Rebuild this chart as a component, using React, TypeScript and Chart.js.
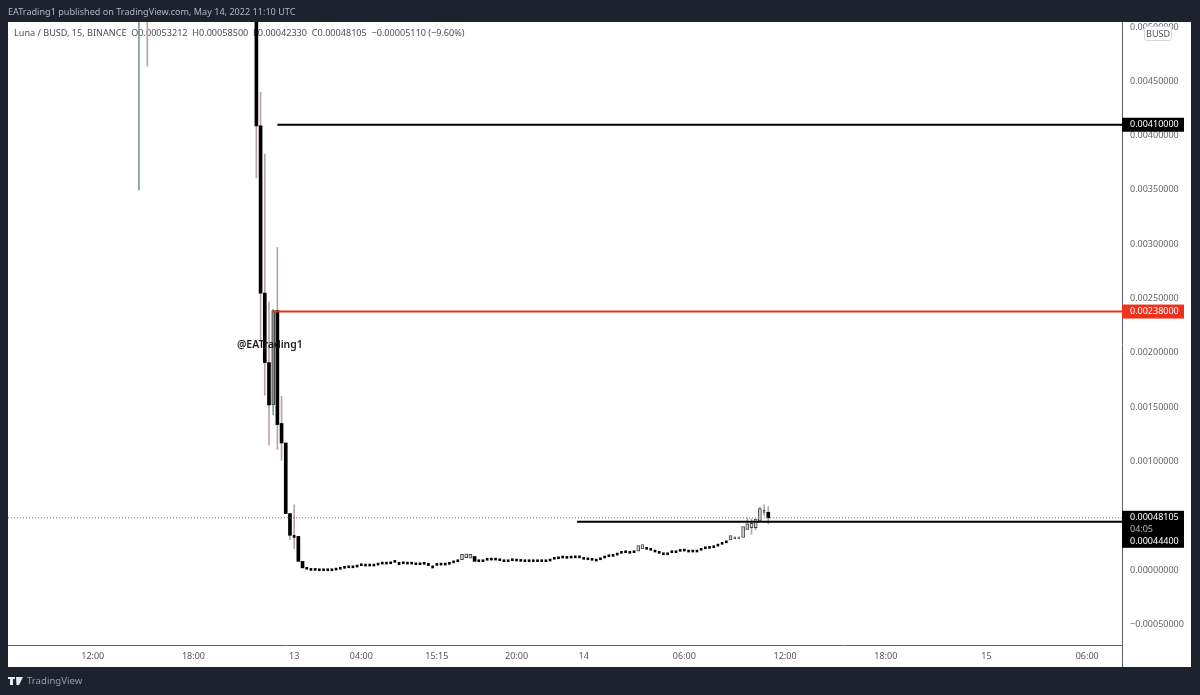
import React, { useEffect, useRef } from "react";
import { Chart, registerables } from "chart.js";

Chart.register(...registerables);

const UNIT = 1e-5; // all candle values below are in units of 0.00001 BUSD

const bodyIndex = [
  0, 2, 28, 29, 30, 31, 32, 33, 34, 35, 36, 37, 38, 39,
  40, 41, 42, 43, 44, 45, 46, 47, 48, 49,
  50, 51, 52, 53, 54, 55, 56, 57, 58, 59,
  60, 61, 62, 63, 64, 65, 66, 67, 68, 69,
  70, 71, 72, 73, 74, 75, 76, 77, 78, 79,
  80, 81, 82, 83, 84, 85, 86, 87, 88, 89,
  90, 91, 92, 93, 94, 95, 96, 97, 98, 99,
  100, 101, 102, 103, 104, 105, 106, 107, 108, 109,
  110, 111, 112, 113, 114, 115, 116, 117, 118, 119,
  120, 121, 122, 123, 124, 125, 126, 127, 128, 129,
  130, 131, 132, 133, 134, 135, 136, 137, 138, 139,
  140, 141, 142, 143, 144, 145, 146, 147, 148, 149, 150,
];
const opens = [
  540, 570, 580, 409, 255, 191, 152, 239, 135, 117, 52, 32, 31, 8,
  2.5, 1.5, 1.5, 1.2, 1.2, 1.2, 1.2, 1.8, 2.5, 3.4,
  3.9, 3.9, 4.6, 5.8, 5.5, 5.5, 5.5, 6.4, 7.3, 7.3,
  7.6, 8.9, 7.1, 7.6, 7.3, 7.3, 6.7, 6.7, 7.1, 6.3,
  3.9, 6.1, 6.4, 6.4, 7.1, 8.5, 9.5, 9.5, 11.5, 11,
  12.5, 9.5, 9.5, 10.8, 11, 11, 10.4, 9.5, 9.5, 10.4,
  10.1, 9.8, 9.5, 9.5, 9.5, 9.5, 9.5, 9.5, 10.1, 11.7,
  12.2, 12.9, 12.6, 12.9, 13.1, 13.1, 11.7, 11.3, 10.8, 10.1,
  11.3, 12.9, 14.1, 14.4, 15.6, 17.2, 17.8, 17.2, 17.8, 17.5,
  19.5, 20.9, 20, 18.4, 17.2, 15.9, 15.9, 17.8, 17.8, 19,
  19.3, 18.4, 18.4, 18.4, 20, 21.4, 21.8, 22.4, 23.9, 25.5,
  26.9, 27.7, 28.8, 28.8, 30, 37.5, 39, 39, 45, 53, 53.212,
];
const closes = [
  560, 590, 409, 255, 191, 152, 239, 134, 117, 52, 32, 30, 8, 2,
  0.7, -0.3, -0.3, -0.6, -0.6, -0.6, -0.6, 0, 0.7, 1.6,
  2.1, 2.1, 2.8, 4, 3.7, 3.7, 3.7, 4.6, 5.5, 5.5,
  5.8, 7.1, 4.9, 5.8, 5.5, 5.5, 4.9, 4.9, 5.3, 4.1,
  1.9, 4.3, 4.6, 4.6, 5.3, 6.7, 7.7, 14.5, 15, 14.5,
  8, 7.7, 7.7, 9, 9.2, 9.2, 8.6, 7.7, 7.7, 8.6,
  8.3, 8, 7.7, 7.7, 7.7, 7.7, 7.7, 7.7, 8.3, 9.9,
  10.4, 11.1, 10.8, 11.1, 11.3, 11.3, 9.9, 9.5, 9, 8.3,
  9.5, 11.1, 12.3, 12.6, 13.8, 15.4, 16, 15.4, 16, 22.5,
  23.5, 19.1, 18.2, 16.6, 15.4, 14.1, 14.1, 16, 16, 17.2,
  17.5, 16.6, 16.6, 16.6, 18.2, 19.6, 20, 20.6, 22.1, 23.7,
  25.1, 31.7, 30.6, 30.6, 40, 42.5, 43, 47, 56.5, 55, 48.105,
];

const wickIndex = [0, 2, 28, 29, 30, 31, 32, 33, 34, 36, 37, 145, 146, 147, 148, 149, 150];
const wickHighs = [620, 620, 580, 440, 383, 247, 240, 297, 160, 52, 60, 48, 47, 47, 58, 60, 58.5];
const wickLows = [350, 464, 361, 212, 161, 115, 143, 111, 101, 28, 20, 37, 33, 37, 45, 50, 42.33];

const xTickIndex = [-11, 13, 37, 53, 71, 90, 106, 130, 154, 178, 202, 226];
const xTickLabels = ["12:00", "18:00", "13", "04:00", "15:15", "20:00", "14", "06:00", "12:00", "18:00", "15", "06:00"];
const yTickValues = [-0.0005, 0, 0.0005, 0.001, 0.0015, 0.002, 0.0025, 0.003, 0.0035, 0.004, 0.0045, 0.005];

const resistanceHigh = 0.0041;
const resistanceMid = 0.00238;
const supportLevel = 0.000444;
const lastPrice = 0.00048105;
const countdown = "04:05";
const currency = "BUSD";
const headerText = "EATrading1 published on TradingView.com, May 14, 2022 11:10 UTC";
const legendText = "Luna / BUSD, 15, BINANCE  O0.00053212  H0.00058500  L0.00042330  C0.00048105  \u22120.00005110 (\u22129.60%)";
const watermarkText = "@EATrading1";
const brandText = "TradingView";

const resistanceHighStart = 33;
const resistanceMidStart = 32;
const supportStart = 104.4;

const X_MIN = -31.2;
const X_MAX = 234.3;
const Y_MIN = -0.00069;
const Y_MAX = 0.005046;

const FONT = '"Noto Sans", sans-serif';
const DARK = "#1e222d";

const fmt = (v: number) => (v < 0 ? "\u2212" : "") + Math.abs(v).toFixed(8);

const frame = {
  id: "frame",
  beforeDraw(chart: any) {
    const c = chart.ctx;
    c.save();
    c.fillStyle = DARK;
    c.fillRect(0, 0, 1200, 695);
    c.fillStyle = "#fff";
    c.fillRect(8, 22, 1183, 645);
    c.restore();
  },
  beforeDatasetsDraw(chart: any) {
    const c = chart.ctx;
    c.save();
    c.textBaseline = "middle";
    c.textAlign = "left";
    c.fillStyle = "#4a4d57";
    c.font = `9.1px ${FONT}`;
    c.fillText(legendText, 14, 33);
    c.restore();
  },
  afterDraw(chart: any) {
    const c = chart.ctx;
    const y = chart.scales.y;
    const a = chart.chartArea;
    c.save();
    c.strokeStyle = "#5d606b";
    c.lineWidth = 1;
    c.beginPath();
    c.moveTo(a.right + 0.5, 22);
    c.lineTo(a.right + 0.5, 667);
    c.moveTo(8, a.bottom + 0.5);
    c.lineTo(1122, a.bottom + 0.5);
    c.stroke();

    c.textBaseline = "middle";
    c.textAlign = "left";
    c.font = `9.1px ${FONT}`;
    c.fillStyle = "#b2b5be";
    c.fillText(headerText, 8, 12);
    c.fillStyle = "#1a1a1a";
    c.font = `600 10.4px ${FONT}`;
    c.fillText(watermarkText, 237, 345);

    const tag = (v: number, bg: string) => {
      const py = y.getPixelForValue(v);
      c.fillStyle = bg;
      c.fillRect(a.right, py - 7, 62, 14);
      c.fillStyle = "#fff";
      c.font = `9px ${FONT}`;
      c.fillText(v.toFixed(8), 1130, py);
    };
    tag(resistanceHigh, "#000");
    tag(resistanceMid, "#f0311e");
    const lastY = y.getPixelForValue(lastPrice);
    c.fillStyle = "#000";
    c.fillRect(a.right, lastY - 7, 62, 37);
    c.fillStyle = "#fff";
    c.font = `9px ${FONT}`;
    c.fillText(lastPrice.toFixed(8), 1130, lastY);
    c.fillStyle = "#b2b5be";
    c.fillText(countdown, 1130, lastY + 12);
    c.fillStyle = "#fff";
    c.fillText(supportLevel.toFixed(8), 1130, lastY + 24);

    c.fillStyle = "#fff";
    c.strokeStyle = "#d6d8de";
    c.beginPath();
    c.roundRect(1144.5, 26.5, 27, 14, 2);
    c.fill();
    c.stroke();
    c.fillStyle = "#555";
    c.font = `9px ${FONT}`;
    c.textAlign = "center";
    c.fillText(currency, 1158, 34);

    c.fillStyle = "#e8e9ec";
    c.fillRect(8, 677, 7, 2);
    c.fillRect(10, 677, 3, 8);
    c.beginPath();
    c.moveTo(16, 677);
    c.lineTo(23, 677);
    c.lineTo(19, 685);
    c.lineTo(16.5, 685);
    c.closePath();
    c.fill();
    c.textAlign = "left";
    c.fillStyle = "#9a9da8";
    c.font = `9.6px ${FONT}`;
    c.fillText(brandText, 27, 681);
    c.restore();
  },
};

export default function App() {
  const ref = useRef<HTMLCanvasElement>(null);
  useEffect(() => {
    const bars = bodyIndex.map((x, i) => ({ x, o: opens[i], c: closes[i] }));
    const wide = bars.filter((b) => Math.abs(b.o - b.c) >= 3);
    const narrow = bars.filter((b) => Math.abs(b.o - b.c) < 3);
    const toPoint = (b: any) => ({ x: b.x, y: [b.o * UNIT, b.c * UNIT] });
    const fill = (list: any[]) => (ctx: any) => {
      const b = list[ctx.dataIndex];
      if (b.c <= b.o) return "#000";
      return b.c - b.o > 50 ? "#8c8c8c" : "#d8d8d8";
    };
    const border = (list: any[]) => (ctx: any) => {
      const b = list[ctx.dataIndex];
      return b.c > b.o ? 1 : 0;
    };
    const chart = new Chart(ref.current!, {
      type: "bar",
      data: {
        datasets: [
          {
            type: "bar",
            label: "wicks",
            order: 5,
            grouped: false,
            barThickness: 1,
            data: wickIndex.map((x, i) => ({ x, y: [wickLows[i] * UNIT, wickHighs[i] * UNIT] })),
            backgroundColor: (ctx: any) => {
              const bar = wickIndex[ctx.dataIndex];
              return bar === 0 || bar === 32 ? "#7f9a97" : "#b8a4a8";
            },
          },
          {
            type: "bar",
            label: "bodies",
            order: 4,
            grouped: false,
            barThickness: 3,
            data: wide.map(toPoint),
            backgroundColor: fill(wide),
            borderColor: "#444",
            borderWidth: border(wide),
            borderSkipped: false,
          },
          {
            type: "bar",
            label: "small bodies",
            order: 4,
            grouped: false,
            barThickness: 2,
            data: narrow.map(toPoint),
            backgroundColor: fill(narrow),
            borderColor: "#444",
            borderWidth: border(narrow),
            borderSkipped: false,
          },
          {
            type: "line",
            label: "last",
            order: 3,
            data: [{ x: X_MIN, y: lastPrice }, { x: X_MAX, y: lastPrice }],
            borderColor: "#777",
            borderWidth: 1,
            borderDash: [1, 2],
            pointRadius: 0,
          },
          {
            type: "line",
            label: "r1",
            order: 2,
            data: [{ x: resistanceHighStart, y: resistanceHigh }, { x: X_MAX, y: resistanceHigh }],
            borderColor: "#000",
            borderWidth: 2,
            pointRadius: 0,
          },
          {
            type: "line",
            label: "r2",
            order: 2,
            data: [{ x: resistanceMidStart, y: resistanceMid }, { x: X_MAX, y: resistanceMid }],
            borderColor: "#e8321f",
            borderWidth: 2,
            pointRadius: 0,
          },
          {
            type: "line",
            label: "s1",
            order: 2,
            data: [{ x: supportStart, y: supportLevel }, { x: X_MAX, y: supportLevel }],
            borderColor: "#000",
            borderWidth: 2,
            pointRadius: 0,
          },
        ] as any,
      },
      options: {
        animation: false,
        responsive: false,
        devicePixelRatio: 1,
        layout: { padding: { left: 8, top: 22, right: 9, bottom: 28 } },
        plugins: { legend: { display: false }, tooltip: { enabled: false }, title: { display: false } },
        scales: {
          x: {
            type: "linear",
            min: X_MIN,
            max: X_MAX,
            offset: false,
            grid: { display: false, drawTicks: false },
            border: { display: false },
            afterBuildTicks: (s: any) => {
              s.ticks = xTickIndex.map((value) => ({ value }));
            },
            afterFit: (s: any) => {
              s.height = 22;
            },
            ticks: {
              autoSkip: false,
              maxRotation: 0,
              color: "#555",
              padding: 6,
              font: { family: FONT, size: 9 },
              callback: (v: any) => xTickLabels[xTickIndex.indexOf(Number(v))] ?? "",
            },
          },
          y: {
            type: "linear",
            position: "right",
            min: Y_MIN,
            max: Y_MAX,
            grid: { display: false, drawTicks: false },
            border: { display: false },
            afterBuildTicks: (s: any) => {
              s.ticks = yTickValues.map((value) => ({ value }));
            },
            afterFit: (s: any) => {
              s.width = 69;
            },
            ticks: {
              autoSkip: false,
              color: "#666",
              padding: 8,
              crossAlign: "near",
              font: { family: FONT, size: 9 },
              callback: (v: any) => fmt(Number(v)),
            },
          },
        },
      } as any,
      plugins: [frame],
    });
    return () => chart.destroy();
  }, []);
  return (
    <div style={{ position: "fixed", left: 0, top: 0, width: 1200, height: 695, overflow: "hidden", background: DARK }}>
      <canvas ref={ref} width={1200} height={695} style={{ display: "block", width: 1200, height: 695, filter: "blur(0.35px)" }} />
    </div>
  );
}
